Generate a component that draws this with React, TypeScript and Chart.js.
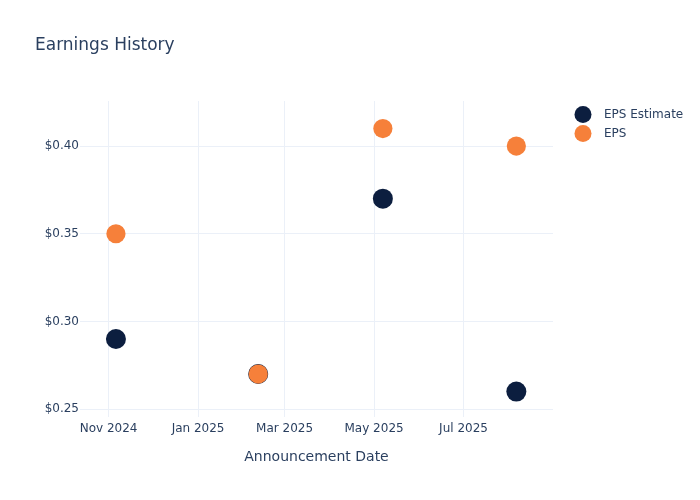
import React, { useEffect, useRef } from "react";
import { Chart, registerables } from "chart.js";

Chart.register(...registerables);

const announcementDates = ["2024-11-06", "2025-02-11", "2025-05-07", "2025-08-06"];
const epsEstimate = [0.29, 0.27, 0.37, 0.26];
const epsActual = [0.35, 0.27, 0.41, 0.40];
const xTickDates = ["2024-11-01", "2025-01-01", "2025-03-01", "2025-05-01", "2025-07-01"];
const xTickLabels = ["Nov 2024", "Jan 2025", "Mar 2025", "May 2025", "Jul 2025"];
const yTickValues = [0.25, 0.3, 0.35, 0.4];
const xRange = ["2024-10-12T12:00:00Z", "2025-08-31T00:00:00Z"];
const yRange = [0.2455, 0.4257];

const seriesNames = ["EPS Estimate", "EPS"];
const seriesColors = ["#0c1e3f", "#f6803a"];

const FONT = "'DejaVu Sans', sans-serif";
const TEXT = "#2a3f5f";
const GRID = "#ebf0f8";

const ts = (d: string) => Date.parse(d.length === 10 ? d + "T00:00:00Z" : d);

export default function App() {
  const ref = useRef<HTMLCanvasElement | null>(null);

  useEffect(() => {
    if (!ref.current) return;
    const decor = {
      id: "decor",
      afterDraw(chart: any) {
        const ctx = chart.ctx;
        ctx.save();
        ctx.fillStyle = TEXT;
        ctx.font = `17px ${FONT}`;
        ctx.textBaseline = "middle";
        ctx.textAlign = "left";
        ctx.fillText("Earnings History", 35, 45.5);
        ctx.font = `12px ${FONT}`;
        seriesNames.forEach((name, i) => {
          const y = 115 + i * 19;
          ctx.beginPath();
          ctx.arc(583, y - 0.5, 8.5, 0, Math.PI * 2);
          ctx.fillStyle = seriesColors[i];
          ctx.fill();
          ctx.fillStyle = TEXT;
          ctx.fillText(name, 604, y);
        });
        ctx.restore();
      },
    };

    const chart = new Chart(ref.current, {
      type: "scatter",
      data: {
        datasets: [
          {
            label: seriesNames[0],
            data: announcementDates.map((d, i) => ({ x: ts(d), y: epsEstimate[i] })),
            backgroundColor: seriesColors[0],
            borderColor: seriesColors[0],
            borderWidth: 0,
            pointRadius: 10,
            pointHoverRadius: 10,
            order: 1,
          },
          {
            label: seriesNames[1],
            data: announcementDates.map((d, i) => ({ x: ts(d), y: epsActual[i] })),
            backgroundColor: seriesColors[1],
            borderColor: seriesColors[1],
            borderWidth: 0,
            pointRadius: 9.6,
            pointHoverRadius: 9.6,
            order: 0,
          },
        ],
      },
      options: {
        animation: false,
        responsive: false,
        events: [],
        layout: { padding: { left: 0, right: 147, top: 101, bottom: 0 } },
        plugins: {
          legend: { display: false },
          title: { display: false },
          tooltip: { enabled: false },
        },
        scales: {
          x: {
            type: "linear",
            min: ts(xRange[0]),
            max: ts(xRange[1]),
            afterBuildTicks: (scale: any) => {
              scale.ticks = xTickDates.map((d) => ({ value: ts(d) }));
            },
            afterFit: (scale: any) => {
              scale.height = 83;
            },
            ticks: {
              autoSkip: false,
              maxRotation: 0,
              padding: 5,
              color: TEXT,
              font: { family: FONT, size: 12 },
              callback: (v: any) => {
                const idx = xTickDates.findIndex((d) => ts(d) === v);
                return idx >= 0 ? xTickLabels[idx] : "";
              },
            },
            grid: { color: GRID, lineWidth: 1, drawTicks: false },
            border: { display: false },
            title: {
              display: true,
              text: "Announcement Date",
              color: TEXT,
              font: { family: FONT, size: 14 },
              padding: { top: 0, bottom: 34.6 },
            },
          },
          y: {
            type: "linear",
            min: yRange[0],
            max: yRange[1],
            afterBuildTicks: (scale: any) => {
              scale.ticks = yTickValues.map((v) => ({ value: v }));
            },
            afterFit: (scale: any) => {
              scale.width = 80;
            },
            ticks: {
              padding: 1,
              color: TEXT,
              font: { family: FONT, size: 12 },
              callback: (v: any) => "$" + Number(v).toFixed(2),
            },
            grid: { color: GRID, lineWidth: 1, drawTicks: false },
            border: { display: false },
          },
        },
      },
      plugins: [decor],
    } as any);
    return () => chart.destroy();
  }, []);

  return (
    <div style={{ position: "fixed", left: 0, top: 0, width: 700, height: 500, background: "#fff" }}>
      <canvas ref={ref} width={700} height={500} style={{ width: 700, height: 500, display: "block" }} />
    </div>
  );
}
